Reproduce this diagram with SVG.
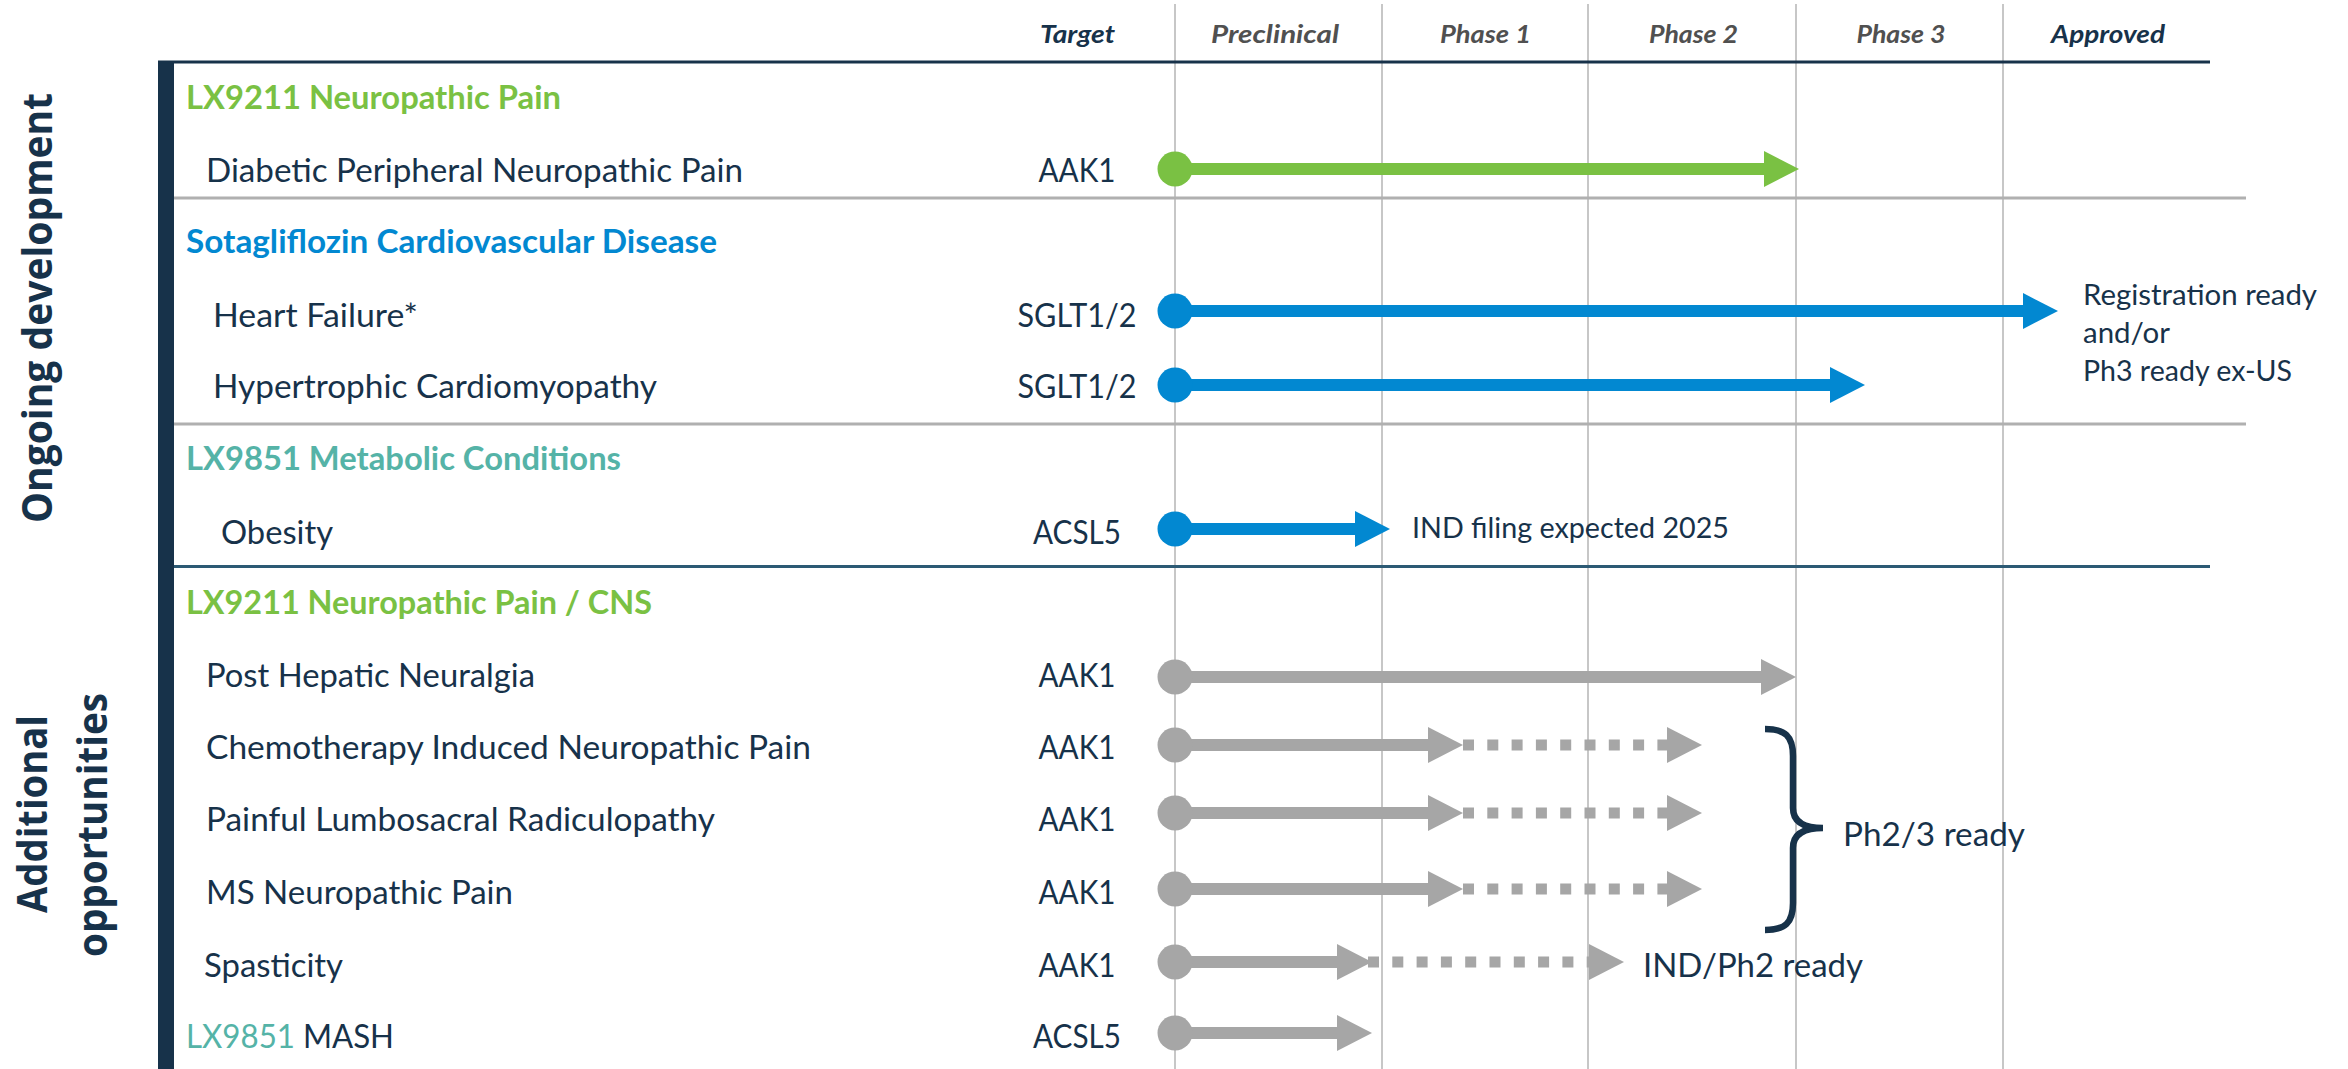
<svg xmlns="http://www.w3.org/2000/svg" width="2348" height="1069" viewBox="0 0 2348 1069">
  <style>
    .t { font-family: Lato, "Open Sans", "Liberation Sans", sans-serif; fill: #17324a; }
    .item { font-size: 32px; }
    .head { font-size: 32px; font-weight: 700; }
    .tgt { font-size: 32px; text-anchor: middle; }
    .col { font-size: 24px; font-weight: 700; font-style: italic; text-anchor: middle; }
    .col-grey { fill: #505050; }
    .note { font-size: 29px; }
    .note-lg { font-size: 33px; }
    .side { font-family: "Open Sans", "Noto Sans", "Liberation Sans", sans-serif; font-weight: 700; font-size: 42px; text-anchor: middle; fill: #17324a; }
    .green { fill: #7ac143; }
    .blue { fill: #0288d1; }
    .teal { fill: #55b3a7; }
    .grid { stroke: #b5b5b5; stroke-width: 1.5; }
    .sep { stroke: #b0b0b0; stroke-width: 3; }
    .shaft { fill: none; stroke-width: 12; }
    .dots { fill: none; stroke: #a6a6a6; stroke-width: 11; stroke-dasharray: 11 13.3; }
    .g-green { stroke: #7ac143; marker-start: url(#dot-green); marker-end: url(#head-green); }
    .g-blue { stroke: #0288d1; marker-start: url(#dot-blue); marker-end: url(#head-blue); }
    .g-grey { stroke: #a6a6a6; marker-start: url(#dot-grey); marker-end: url(#head-grey); }
  </style>
  <defs>
    <marker id="dot-green" markerUnits="userSpaceOnUse" markerWidth="36" markerHeight="36" refX="18" refY="18" orient="0">
      <circle cx="18" cy="18" r="17.5" fill="#7ac143"/>
    </marker>
    <marker id="dot-blue" markerUnits="userSpaceOnUse" markerWidth="36" markerHeight="36" refX="18" refY="18" orient="0">
      <circle cx="18" cy="18" r="17.5" fill="#0288d1"/>
    </marker>
    <marker id="dot-grey" markerUnits="userSpaceOnUse" markerWidth="36" markerHeight="36" refX="18" refY="18" orient="0">
      <circle cx="18" cy="18" r="17.5" fill="#a6a6a6"/>
    </marker>
    <marker id="head-green" markerUnits="userSpaceOnUse" markerWidth="36" markerHeight="36" refX="2" refY="18" orient="auto">
      <path d="M0,0 L35,18 L0,36 Z" fill="#7ac143"/>
    </marker>
    <marker id="head-blue" markerUnits="userSpaceOnUse" markerWidth="36" markerHeight="36" refX="2" refY="18" orient="auto">
      <path d="M0,0 L35,18 L0,36 Z" fill="#0288d1"/>
    </marker>
    <marker id="head-grey" markerUnits="userSpaceOnUse" markerWidth="36" markerHeight="36" refX="2" refY="18" orient="auto">
      <path d="M0,0 L35,18 L0,36 Z" fill="#a6a6a6"/>
    </marker>
    <marker id="head-grey-only" markerUnits="userSpaceOnUse" markerWidth="36" markerHeight="36" refX="2" refY="18" orient="auto">
      <path d="M0,0 L35,18 L0,36 Z" fill="#a6a6a6"/>
    </marker>
  </defs>

  <rect width="2348" height="1069" fill="#ffffff"/>

  <!-- table frame: phase columns, header rule, section rules, side bar -->
  <g id="frame">
    <line class="grid" x1="1175" y1="4" x2="1175" y2="1069"/>
    <line class="grid" x1="1382" y1="4" x2="1382" y2="1069"/>
    <line class="grid" x1="1588" y1="4" x2="1588" y2="1069"/>
    <line class="grid" x1="1796" y1="4" x2="1796" y2="1069"/>
    <line class="grid" x1="2003" y1="4" x2="2003" y2="1069"/>
    <line class="sep" x1="172" y1="198" x2="2246" y2="198"/>
    <line class="sep" x1="172" y1="424" x2="2246" y2="424"/>
    <line x1="158" y1="566.5" x2="2210" y2="566.5" stroke="#2c5a74" stroke-width="3"/>
    <rect x="158" y="61" width="16" height="1008" fill="#17324a"/>
    <line x1="158" y1="62" x2="2210" y2="62" stroke="#17324a" stroke-width="3"/>
  </g>

  <!-- column headers -->
  <g id="column-headers">
    <text class="t col" x="1077.5" y="43" textLength="75" lengthAdjust="spacingAndGlyphs">Target</text>
    <text class="t col col-grey" x="1275" y="43" textLength="128" lengthAdjust="spacingAndGlyphs">Preclinical</text>
    <text class="t col col-grey" x="1485.5" y="43" textLength="91" lengthAdjust="spacingAndGlyphs">Phase 1</text>
    <text class="t col col-grey" x="1693.5" y="43" textLength="89" lengthAdjust="spacingAndGlyphs">Phase 2</text>
    <text class="t col col-grey" x="1901" y="43" textLength="89" lengthAdjust="spacingAndGlyphs">Phase 3</text>
    <text class="t col" x="2108" y="43" textLength="114" lengthAdjust="spacingAndGlyphs">Approved</text>
  </g>

  <!-- side labels -->
  <g id="label-ongoing">
    <text class="side" transform="translate(52,308) rotate(-90)" textLength="430" lengthAdjust="spacingAndGlyphs">Ongoing development</text>
  </g>
  <g id="label-additional">
    <text class="side" transform="translate(47,814) rotate(-90)" textLength="198" lengthAdjust="spacingAndGlyphs">Additional</text>
    <text class="side" transform="translate(107,825) rotate(-90)" textLength="264" lengthAdjust="spacingAndGlyphs">opportunities</text>
  </g>

  <!-- programme headings -->
  <g id="heading-lx9211">
    <text class="t head green" x="186" y="109" textLength="375" lengthAdjust="spacingAndGlyphs">LX9211 Neuropathic Pain</text>
  </g>
  <g id="heading-sotagliflozin">
    <text class="t head blue" x="186" y="253" textLength="531" lengthAdjust="spacingAndGlyphs">Sotagliflozin Cardiovascular Disease</text>
  </g>
  <g id="heading-lx9851">
    <text class="t head teal" x="186" y="470" textLength="435" lengthAdjust="spacingAndGlyphs">LX9851 Metabolic Conditions</text>
  </g>
  <g id="heading-lx9211-cns">
    <text class="t head green" x="186" y="614" textLength="466" lengthAdjust="spacingAndGlyphs">LX9211 Neuropathic Pain / CNS</text>
  </g>

  <!-- indication rows -->
  <g id="row-dpnp">
    <text class="t item" x="206" y="182" textLength="537" lengthAdjust="spacingAndGlyphs">Diabetic Peripheral Neuropathic Pain</text>
    <text class="t tgt" x="1077" y="182" textLength="77" lengthAdjust="spacingAndGlyphs">AAK1</text>
  </g>
  <g id="row-heart-failure">
    <text class="t item" x="213" y="327" textLength="205" lengthAdjust="spacingAndGlyphs">Heart Failure*</text>
    <text class="t tgt" x="1077" y="327" textLength="119" lengthAdjust="spacingAndGlyphs">SGLT1/2</text>
    <text class="t note" x="2083" y="305" textLength="234" lengthAdjust="spacingAndGlyphs">Registration ready</text>
    <text class="t note" x="2083" y="343" textLength="87" lengthAdjust="spacingAndGlyphs">and/or</text>
    <text class="t note" x="2083" y="381" textLength="209" lengthAdjust="spacingAndGlyphs">Ph3 ready ex-US</text>
  </g>
  <g id="row-hcm">
    <text class="t item" x="213" y="398" textLength="444" lengthAdjust="spacingAndGlyphs">Hypertrophic Cardiomyopathy</text>
    <text class="t tgt" x="1077" y="398" textLength="119" lengthAdjust="spacingAndGlyphs">SGLT1/2</text>
  </g>
  <g id="row-obesity">
    <text class="t item" x="221" y="544" textLength="112" lengthAdjust="spacingAndGlyphs">Obesity</text>
    <text class="t tgt" x="1077" y="544" textLength="88" lengthAdjust="spacingAndGlyphs">ACSL5</text>
    <text class="t note" x="1412" y="538" textLength="317" lengthAdjust="spacingAndGlyphs">IND filing expected 2025</text>
  </g>
  <g id="row-phn">
    <text class="t item" x="206" y="687" textLength="329" lengthAdjust="spacingAndGlyphs">Post Hepatic Neuralgia</text>
    <text class="t tgt" x="1077" y="687" textLength="77" lengthAdjust="spacingAndGlyphs">AAK1</text>
  </g>
  <g id="row-cinp">
    <text class="t item" x="206" y="759" textLength="605" lengthAdjust="spacingAndGlyphs">Chemotherapy Induced Neuropathic Pain</text>
    <text class="t tgt" x="1077" y="759" textLength="77" lengthAdjust="spacingAndGlyphs">AAK1</text>
  </g>
  <g id="row-plr">
    <text class="t item" x="206" y="831" textLength="509" lengthAdjust="spacingAndGlyphs">Painful Lumbosacral Radiculopathy</text>
    <text class="t tgt" x="1077" y="831" textLength="77" lengthAdjust="spacingAndGlyphs">AAK1</text>
  </g>
  <g id="row-ms">
    <text class="t item" x="206" y="904" textLength="307" lengthAdjust="spacingAndGlyphs">MS Neuropathic Pain</text>
    <text class="t tgt" x="1077" y="904" textLength="77" lengthAdjust="spacingAndGlyphs">AAK1</text>
  </g>
  <g id="row-spasticity">
    <text class="t item" x="204" y="977" textLength="139" lengthAdjust="spacingAndGlyphs">Spasticity</text>
    <text class="t tgt" x="1077" y="977" textLength="77" lengthAdjust="spacingAndGlyphs">AAK1</text>
    <text class="t note-lg" x="1643" y="977" textLength="220" lengthAdjust="spacingAndGlyphs">IND/Ph2 ready</text>
  </g>
  <g id="row-mash">
    <text class="t item" x="186" y="1048" textLength="208" lengthAdjust="spacingAndGlyphs"><tspan class="teal">LX9851</tspan> MASH</text>
    <text class="t tgt" x="1077" y="1048" textLength="88" lengthAdjust="spacingAndGlyphs">ACSL5</text>
  </g>

  <!-- Ph2/3 bracket -->
  <g id="bracket-ph23">
    <path d="M1765,729 C1785,729 1793,736 1793,756 L1793,808 C1793,821 1803,828 1823,828 C1803,828 1793,835 1793,848 L1793,903 C1793,923 1785,930 1765,930" fill="none" stroke="#17324a" stroke-width="6.5"/>
    <text class="t note-lg" x="1843" y="846" textLength="182" lengthAdjust="spacingAndGlyphs">Ph2/3 ready</text>
  </g>

  <!-- development progress arrows -->
  <g id="connectors">
    <path class="shaft g-green" d="M1175,169 H1766"/>
    <path class="shaft g-blue" d="M1175,311 H2025"/>
    <path class="shaft g-blue" d="M1175,385 H1832"/>
    <path class="shaft g-blue" d="M1175,529 H1357"/>
    <path class="shaft g-grey" d="M1175,677 H1763"/>
    <path class="shaft g-grey" d="M1175,745 H1430"/>
    <path class="dots" d="M1463,745 H1669" marker-end="url(#head-grey-only)"/>
    <path class="shaft g-grey" d="M1175,813 H1430"/>
    <path class="dots" d="M1463,813 H1669" marker-end="url(#head-grey-only)"/>
    <path class="shaft g-grey" d="M1175,889 H1430"/>
    <path class="dots" d="M1463,889 H1669" marker-end="url(#head-grey-only)"/>
    <path class="shaft g-grey" d="M1175,962 H1339"/>
    <path class="dots" d="M1368,962 H1591" marker-end="url(#head-grey-only)"/>
    <path class="shaft g-grey" d="M1175,1033 H1339"/>
  </g>
</svg>
